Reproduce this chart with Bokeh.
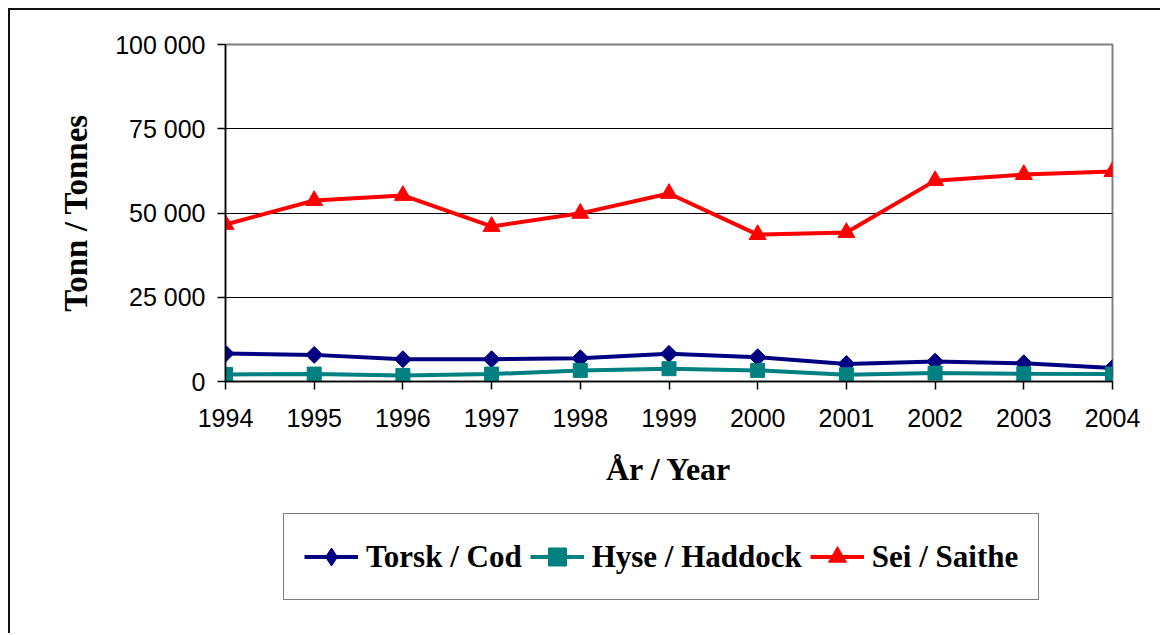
import math
from bokeh.plotting import figure
from bokeh.layouts import column
from bokeh.models import (ColumnDataSource, Range1d, FixedTicker, Legend, LegendItem)
from bokeh.embed import file_html
from bokeh.resources import INLINE

years = [1994, 1995, 1996, 1997, 1998, 1999, 2000, 2001, 2002, 2003, 2004]
cod = [8300, 7900, 6600, 6600, 6900, 8200, 7200, 5200, 5900, 5400, 4000]
haddock = [2100, 2200, 1800, 2200, 3300, 3800, 3300, 2000, 2500, 2300, 2200]
saithe = [46600, 53700, 55200, 46000, 49900, 55800, 43600, 44200, 59600, 61400, 62300]

y_ticks = [0, 25000, 50000, 75000, 100000]
y_tick_labels = ["0", "25 000", "50 000", "75 000", "100 000"]
series_names = ["Torsk / Cod", "Hyse / Haddock", "Sei / Saithe"]

src = ColumnDataSource(dict(year=years, cod=cod, haddock=haddock, saithe=saithe))

W = 1150
H1, H2 = 490, 133
p = figure(width=W, height=H1, output_backend="svg", toolbar_location=None,
           x_range=Range1d(1994, 2004), y_range=Range1d(0, 100000),
           min_border_left=215, min_border_right=48, min_border_top=34,
           min_border_bottom=H1 - 371)
p.background_fill_color = "white"
p.border_fill_color = "white"
p.outline_line_color = "#808080"
p.outline_line_width = 2

p.xgrid.visible = False
p.ygrid.ticker = FixedTicker(ticks=y_ticks[1:-1])
p.ygrid.grid_line_color = "#000000"
p.ygrid.grid_line_width = 1

p.xaxis.ticker = FixedTicker(ticks=years)
p.yaxis.ticker = FixedTicker(ticks=y_ticks)
p.yaxis.major_label_overrides = {t: l for t, l in zip(y_ticks, y_tick_labels)}

for ax in (p.xaxis[0], p.yaxis[0]):
    ax.axis_line_color = "black"
    ax.axis_line_width = 1.5
    ax.major_tick_line_color = "black"
    ax.major_tick_line_width = 1.5
    ax.major_tick_in = 0
    ax.major_tick_out = 8
    ax.minor_tick_line_color = None
    ax.major_label_text_font = "Liberation Sans"
    ax.major_label_text_font_size = "25px"
    ax.major_label_text_color = "black"
    ax.axis_label_text_font = "Liberation Serif"
    ax.axis_label_text_font_style = "bold"
    ax.axis_label_text_color = "black"

p.xaxis.axis_label = "År / Year"
p.yaxis.axis_label = "Tonn / Tonnes"
p.xaxis.axis_label_text_font_size = "32px"
p.yaxis.axis_label_text_font_size = "33px"
p.xaxis.major_label_standoff = 19
p.yaxis.major_label_standoff = 12
p.xaxis.axis_label_standoff = 21
p.yaxis.axis_label_standoff = 18

cols = ["cod", "haddock", "saithe"]
colors = ["#000080", "#008080", "#FF0000"]
markers = ["square", "square", "triangle"]
angles = [math.pi / 4, 0, 0]
sizes = [12, 14, 17]

for c, col, mk, ang, sz in zip(cols, colors, markers, angles, sizes):
    p.line("year", c, source=src, line_color=col, line_width=4)
    p.scatter("year", c, source=src, marker=mk, angle=ang, size=sz,
              fill_color=col, line_color=col)

# legend panel (separate canvas below the chart; its frame aligns with the chart frame)
p2 = figure(width=W, height=H2, output_backend="svg", toolbar_location=None,
            x_range=Range1d(0, 1), y_range=Range1d(0, 1),
            min_border_left=0, min_border_right=0, min_border_top=0,
            min_border_bottom=0)
p2.axis.visible = False
p2.grid.visible = False
p2.outline_line_color = None
p2.background_fill_color = "white"
p2.border_fill_color = "white"

leg_markers = ["diamond", "square", "triangle"]
items = []
for c, col, mk, name in zip(cols, colors, leg_markers, series_names):
    # same series, drawn off-range here: only used for the legend swatches
    ln = p2.line("year", c, source=src, line_color=col, line_width=4)
    sc = p2.scatter("year", c, source=src, marker=mk, size=14,
                    fill_color=col, line_color=col)
    items.append(LegendItem(label=name, renderers=[ln, sc]))

legend = Legend(items=items, orientation="horizontal", location=(58, 33))
legend.label_text_font = "Liberation Serif"
legend.label_text_font_style = "bold"
legend.label_text_font_size = "31px"
legend.label_text_color = "black"
legend.glyph_width = 54
legend.glyph_height = 45
legend.label_standoff = 8
legend.spacing = 8
legend.padding = 20
legend.margin = 0
legend.border_line_color = "black"
legend.border_line_width = 1
legend.background_fill_color = "white"
legend.background_fill_alpha = 1
p2.add_layout(legend, "center")

layout = column(p, p2, spacing=0,
                styles={"position": "relative", "left": "8px", "top": "8px",
                        "border-top": "2px solid #111",
                        "border-left": "2px solid #111"})

open("out.html", "w").write(file_html(layout, INLINE))
